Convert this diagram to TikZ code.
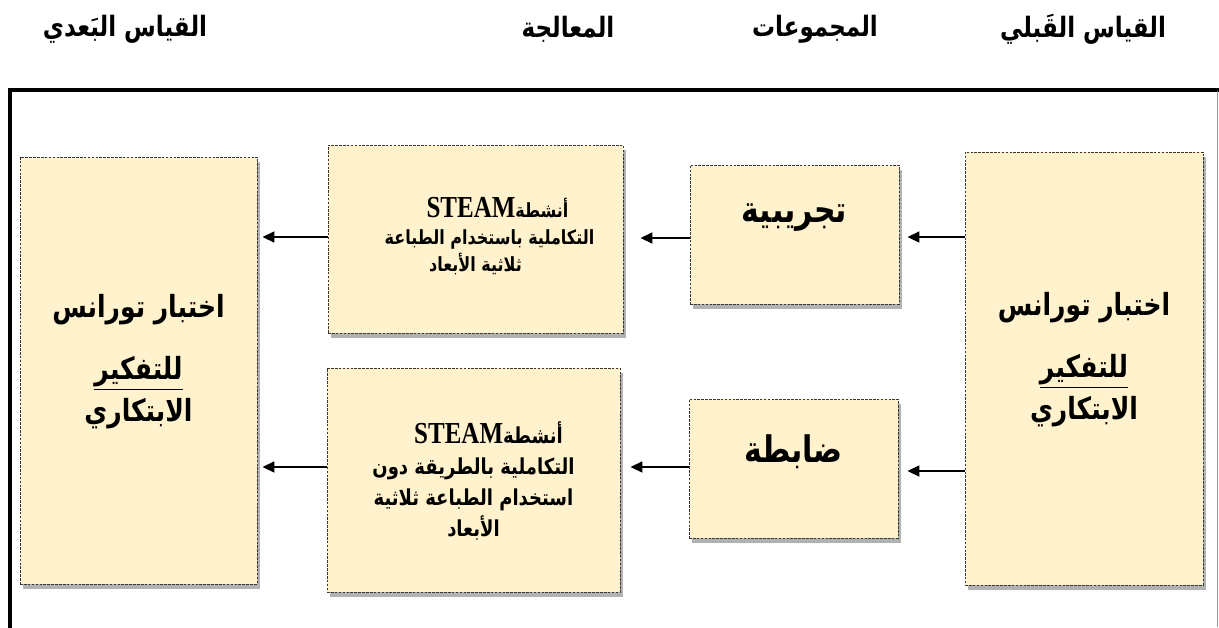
\documentclass[tikz,border=0pt]{standalone}
\usepackage{fontspec}
\usepackage{graphicx}
\setmainfont{Liberation Serif}
\newfontfamily\arfont[Script=Arabic]{DejaVu Sans}
\newfontfamily\steamfont{Liberation Serif}
\TeXXeTstate=1
\usetikzlibrary{arrows.meta,shadows}
\newcommand{\AR}[1]{\scalebox{1}[1.22]{\beginR#1\endR}}
\newcommand{\STEAMword}{{\steamfont\bfseries\fontsize{25}{25}\selectfont\beginL STEAM\endL}}
\definecolor{boxfill}{RGB}{255,242,204}
\definecolor{boxline}{RGB}{55,55,55}
\definecolor{framegray}{RGB}{150,150,150}
\tikzset{
  stagebox/.style={draw=boxline, dash pattern=on 2.6pt off 1.3pt, line width=0.9pt,
    fill=boxfill, inner sep=0pt,
    drop shadow={shadow xshift=3pt, shadow yshift=-5pt, opacity=0.3, fill=black}},
  flowarrow/.style={line width=1.7pt, -{Triangle[length=12pt,width=11pt]}},
  heading/.style={font=\arfont\bfseries\fontsize{23}{26}\selectfont},
  testtext/.style={font=\arfont\bfseries\fontsize{25}{42}\selectfont, align=center},
  treattext/.style={font=\arfont\bfseries\fontsize{16}{27}\selectfont, align=center},
  grouptext/.style={font=\arfont\bfseries\fontsize{30}{32}\selectfont},
}
\begin{document}
\begin{tikzpicture}[x=1pt,y=-1pt]
\useasboundingbox (0,0) rectangle (1219,627);
\fill[white] (0,0) rectangle (1219,627);

% headings
\node[heading] (hpost) at (125,29) {\AR{القياس البَعدي}};
\node[heading] (htreat) at (568,29) {\AR{المعالجة}};
\node[heading] (hgroup) at (815,29) {\AR{المجموعات}};
\node[heading] (hpre) at (1083,29) {\AR{القياس القَبلي}};

% frame
\coordinate (ftl) at (10,90);
\coordinate (ftr) at (1219,90);
\coordinate (fbl) at (10,627);
\draw[line width=3.5pt, line cap=rect] (fbl) -- (ftl) -- (ftr);
\draw[framegray, line width=1pt] (1217.5,91) -- (1217.5,627);

% boxes
\node[stagebox, minimum width=237pt, minimum height=427pt] (post) at (138.5,370.5) {};
\node[stagebox, minimum width=238pt, minimum height=433pt] (pre) at (1084,368.5) {};
\node[stagebox, minimum width=295pt, minimum height=188pt] (tr1) at (475.5,239) {};
\node[stagebox, minimum width=293pt, minimum height=224pt] (tr2) at (473.5,480) {};
\node[stagebox, minimum width=209pt, minimum height=139pt] (g1) at (794.5,234.5) {};
\node[stagebox, minimum width=209pt, minimum height=139pt] (g2) at (793.5,468.5) {};

% texts
\node[testtext] (pretext) at (1084,360) {\AR{اختبار تورانس}\\[20pt]$\underline{\hbox{\AR{للتفكير}}}$\\\AR{الابتكاري}};
\node[testtext] (posttext) at (138.5,362) {\AR{اختبار تورانس}\\[20pt]$\underline{\hbox{\AR{للتفكير}}}$\\\AR{الابتكاري}};
\node[grouptext] (g1text) at (794.5,218) {\AR{تجريبية}};
\node[grouptext] (g2text) at (793.5,452) {\AR{ضابطة}};
\node[treattext] (tr1text) at (475.5,236) {\hspace*{44pt}\AR{أنشطة\STEAMword}\\\hspace*{28pt}\AR{التكاملية باستخدام الطباعة}\\\AR{ثلاثية الأبعاد}};
\node[treattext, font=\arfont\bfseries\fontsize{18}{31}\selectfont] (tr2text) at (473.5,481) {\hspace*{30pt}\AR{أنشطة\STEAMword}\\\AR{التكاملية بالطريقة دون}\\\AR{استخدام الطباعة ثلاثية}\\\AR{الأبعاد}};

% arrows
\draw[flowarrow, shorten >=8pt] (pre.west |- 0,237) -- (g1.east |- 0,237);
\draw[flowarrow, shorten >=17pt] (g1.west |- 0,238) -- (tr1.east |- 0,238);
\draw[flowarrow, shorten >=5pt] (tr1.west |- 0,237) -- (post.east |- 0,237);
\draw[flowarrow, shorten >=9pt] (pre.west |- 0,471) -- (g2.east |- 0,471);
\draw[flowarrow, shorten >=10pt] (g2.west |- 0,467) -- (tr2.east |- 0,467);
\draw[flowarrow, shorten >=5pt] (tr2.west |- 0,467) -- (post.east |- 0,467);
\end{tikzpicture}
\end{document}
